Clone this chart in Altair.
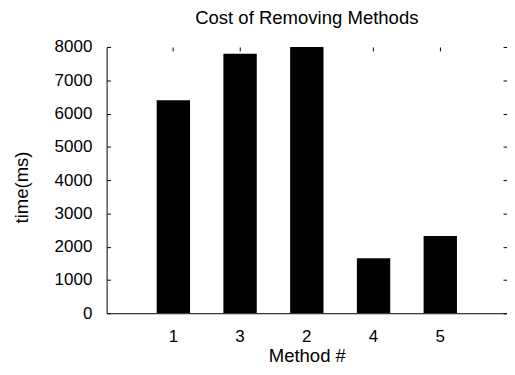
import altair as alt
import pandas as pd

# ---- data ----
methods = ["1", "3", "2", "4", "5"]
times = [6400, 7800, 8000, 1650, 2320]
y_tick_values = [0, 1000, 2000, 3000, 4000, 5000, 6000, 7000, 8000]
chart_title = "Cost of Removing Methods"
x_title = "Method #"
y_title = "time(ms)"

df = pd.DataFrame({"method": methods, "time": times})

FONT = "Liberation Sans"
x_scale = alt.Scale(domain=methods, paddingInner=0.5, paddingOuter=0.75)
y_scale = alt.Scale(domain=[0, 8000], nice=False, zero=True)

base = alt.Chart(df)

# main bars with labelled bottom / left axes
bars = base.mark_bar(color="black", clip=True).encode(
    x=alt.X(
        "method:N", sort=methods, scale=x_scale,
        axis=alt.Axis(orient="bottom", title=x_title, ticks=False, tickSize=0,
                      labelPadding=15, labelAngle=0, titlePadding=2),
    ),
    y=alt.Y(
        "time:Q", scale=y_scale,
        axis=alt.Axis(orient="left", title=y_title, ticks=False, tickSize=0,
                      values=y_tick_values, format="d", labelPadding=15,
                      titlePadding=23, titleY=142),
    ),
)

# inward mirror ticks: top (x) and right (y)
mirror = base.mark_bar(opacity=0).encode(
    x=alt.X(
        "method:N", sort=methods, scale=x_scale,
        axis=alt.Axis(orient="top", offset=-4, ticks=True, tickSize=4,
                      labels=False, domain=False, title=None),
    ),
    y=alt.Y(
        "time:Q", scale=y_scale,
        axis=alt.Axis(orient="right", offset=-4, ticks=True, tickSize=4,
                      values=y_tick_values, labels=False, domain=False, title=None),
    ),
)

# inward ticks on the left axis
left_ticks = base.mark_bar(opacity=0).encode(
    x=alt.X("method:N", sort=methods, scale=x_scale, axis=None),
    y=alt.Y(
        "time:Q", scale=y_scale,
        axis=alt.Axis(orient="left", offset=-4, ticks=True, tickSize=4,
                      values=y_tick_values, labels=False, domain=False, title=None),
    ),
)

chart = (
    alt.layer(bars, mirror, left_ticks)
    .resolve_axis(x="independent", y="independent")
    .properties(
        width=406,
        height=270,
        title=alt.TitleParams(chart_title, fontSize=18.8, font=FONT, color="black",
                              fontWeight="normal", offset=11),
        autosize=alt.AutoSizeParams(type="none"),
        padding={"left": 100, "top": 37, "right": 0, "bottom": 52},
    )
    .configure_view(stroke=None)
    .configure_axis(
        labelFont=FONT, titleFont=FONT, labelFontSize=17.2, titleFontSize=18.8,
        labelColor="black", titleColor="black", titleFontWeight="normal",
        domainColor="black", domainWidth=1, tickColor="black", tickWidth=1,
        grid=False,
    )
)

chart.save("out.html", embed_options={"renderer": "svg", "actions": False})
